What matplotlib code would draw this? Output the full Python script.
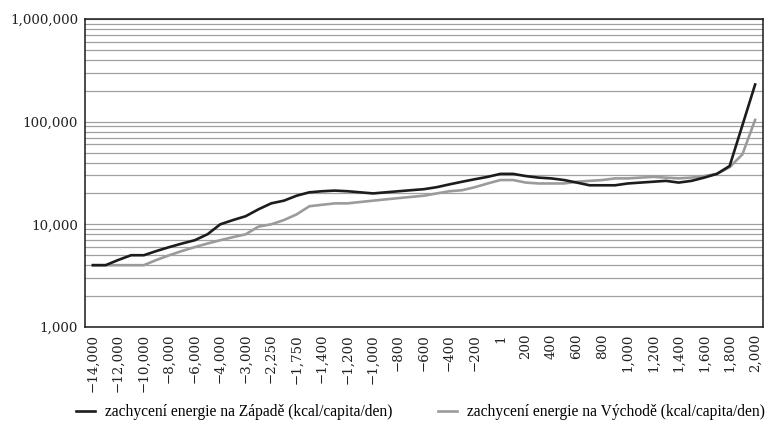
#!/usr/bin/env python3
"""Energy capture per capita, West vs East (log scale)."""

import matplotlib

matplotlib.use("Agg")
import matplotlib.pyplot as plt
from matplotlib.ticker import FixedLocator, LogLocator, NullFormatter

YEARS = [
    -14000, -13000, -12000, -11000, -10000, -9000, -8000, -7000, -6000, -5000,
    -4000, -3500, -3000, -2500, -2250, -2000, -1750, -1500, -1400, -1300,
    -1200, -1100, -1000, -900, -800, -700, -600, -500, -400, -300,
    -200, -100, 1, 100, 200, 300, 400, 500, 600, 700,
    800, 900, 1000, 1100, 1200, 1300, 1400, 1500, 1600, 1700,
    1800, 1900, 2000,
]

WEST = [
    4000, 4000, 4500, 5000, 5000, 5500, 6000, 6500, 7000, 8000,
    10000, 11000, 12000, 14000, 16000, 17000, 19000, 20500, 21000, 21300,
    21000, 20500, 20000, 20500, 21000, 21500, 22000, 23000, 24500, 26000,
    27500, 29000, 31000, 31000, 29500, 28500, 28000, 27000, 25500, 24000,
    24000, 24000, 25000, 25500, 26000, 26500, 25500, 26500, 28500, 31000,
    37000, 92000, 230000,
]

EAST = [
    4000, 4000, 4000, 4000, 4000, 4500, 5000, 5500, 6000, 6500,
    7000, 7500, 8000, 9500, 10000, 11000, 12500, 15000, 15500, 16000,
    16000, 16500, 17000, 17500, 18000, 18500, 19000, 20000, 21000, 21500,
    23000, 25000, 27000, 27000, 25500, 25000, 25000, 25000, 26000, 26500,
    27000, 28000, 28000, 28500, 29000, 28500, 28000, 28500, 29500, 31000,
    36000, 48000, 104000,
]

LABEL_WEST = "zachycení energie na Západě (kcal/capita/den)"
LABEL_EAST = "zachycení energie na Východě (kcal/capita/den)"


def year_label(year: int) -> str:
    text = f"{abs(year):,}"
    return "\u2212" + text if year < 0 else text


def main() -> None:
    fig = plt.figure(figsize=(7.65, 4.21), dpi=100)
    ax = fig.add_axes([0.1111, 0.2233, 0.8863, 0.7316])

    xs = list(range(len(YEARS)))
    ax.plot(xs, WEST, color="#1c1c1c", linewidth=1.9, label=LABEL_WEST, zorder=3)
    ax.plot(xs, EAST, color="#9b9b9b", linewidth=1.9, label=LABEL_EAST, zorder=2)

    ax.set_yscale("log")
    ax.set_ylim(1000, 1000000)
    ax.set_xlim(-0.62, len(YEARS) - 1 + 0.62)

    ax.yaxis.set_major_locator(FixedLocator([1000, 10000, 100000, 1000000]))
    ax.yaxis.set_minor_locator(LogLocator(base=10, subs=range(2, 10)))
    ax.yaxis.set_minor_formatter(NullFormatter())
    ax.set_yticklabels(["1,000", "10,000", "100,000", "1,000,000"],
                       fontfamily="DejaVu Serif", fontsize=9.6, color="#222222")
    ax.grid(True, which="both", axis="y", color="#a0a0a0", linewidth=0.9)
    ax.set_axisbelow(True)

    tick_idx = xs[::2]
    ax.set_xticks(tick_idx)
    ax.set_xticklabels([year_label(YEARS[i]) for i in tick_idx], rotation=90,
                       fontfamily="DejaVu Serif", fontsize=9.6, color="#222222")
    ax.tick_params(axis="both", which="both", length=0)
    ax.tick_params(axis="x", pad=5)
    ax.tick_params(axis="y", pad=5)

    for spine in ax.spines.values():
        spine.set_color("#1a1a1a")
        spine.set_linewidth(1.1)

    handles, labels = ax.get_legend_handles_labels()
    fig.legend(handles, labels, loc="center left", bbox_to_anchor=(0.0993, 0.0214),
               ncol=2, frameon=False, borderpad=0, borderaxespad=0,
               handlelength=1.2, handletextpad=0.65, columnspacing=2.95,
               prop={"family": "Liberation Serif", "size": 11.2})

    fig.savefig("out.png", dpi=100)
    plt.close(fig)


if __name__ == "__main__":
    main()
